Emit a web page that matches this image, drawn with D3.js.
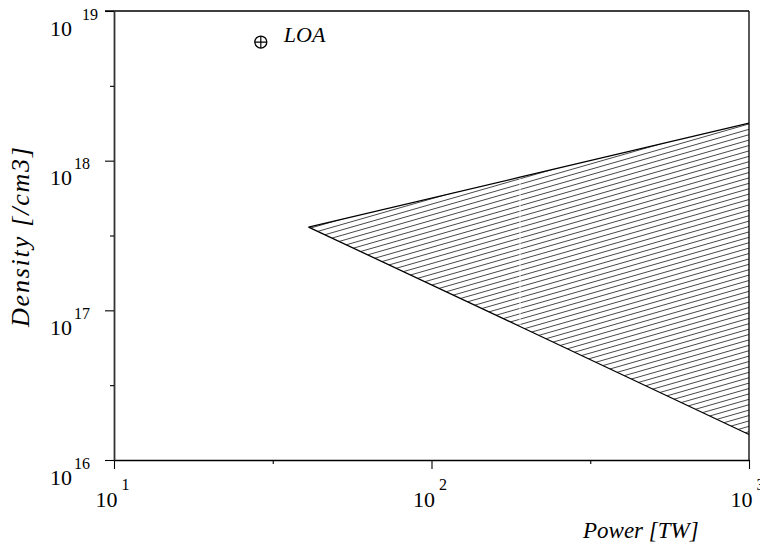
<!DOCTYPE html>
<html>
<head>
<meta charset="utf-8">
<script src="https://cdn.jsdelivr.net/npm/d3@7"></script>
<style>
  html, body { margin: 0; padding: 0; background: #fff; }
  svg text { font-family: "Liberation Serif", Tinos, "Times New Roman", Times, serif; fill: #000; }
</style>
</head>
<body>
<svg id="chart" width="760" height="546"></svg>
<script>
// Axis ticks (decades) and half-decade minor ticks
const powerTicks = [10, 100, 1000];
const powerMinor = [Math.pow(10, 1.5), Math.pow(10, 2.5)];
const densityTicks = [1e16, 1e17, 1e18, 1e19];
const densityMinor = [Math.pow(10, 16.5), Math.pow(10, 17.5), Math.pow(10, 18.5)];

// Accessible region: upper edge n ~ P^0.5, lower edge n ~ P^-1
const regionPower = [41, 190, 1000];
const regionUpper = [3.6e17, 7.75e17, 1.78e18];
const regionLower = [3.6e17, 7.8e16, 1.48e16];

// Single labelled point
const pointPower = [29];
const pointDensity = [6.2e18];
const pointLabel = ["LOA"];

const svg = d3.select("#chart");
const plotL = 114, plotR = 749, plotT = 11, plotB = 460;

const x = d3.scaleLog().domain([10, 1000]).range([plotL, plotR]);
const y = d3.scaleLog().domain([1e16, 1e19]).range([plotB, plotT]);

const idx = d3.range(regionPower.length);
const upperPts = idx.map(i => [x(regionPower[i]), y(regionUpper[i])]);
const lowerPts = idx.map(i => [x(regionPower[i]), y(regionLower[i])]).reverse();
const regionPath = d3.line()(upperPts.concat(lowerPts)) + "Z";

// clip for the hatching
const defs = svg.append("defs");
defs.append("clipPath").attr("id", "region-clip")
  .append("path").attr("d", regionPath);

// diagonal hatch lines, rising to the right
const hatchSlope = Math.tan(16 * Math.PI / 180);
const hatchStep = 5.4; // vertical spacing
const x0 = d3.min(upperPts, p => p[0]), x1 = d3.max(upperPts, p => p[0]);
const yTop = d3.min(upperPts, p => p[1]), yBot = d3.max(lowerPts, p => p[1]);
const offsets = d3.range(yTop - 2, yBot + (x1 - x0) * hatchSlope + 2, hatchStep);
svg.append("g").attr("clip-path", "url(#region-clip)")
  .selectAll("line").data(offsets).join("line")
  .attr("x1", x0 - 2).attr("y1", c => c)
  .attr("x2", x1 + 2).attr("y2", c => c - (x1 - x0 + 4) * hatchSlope)
  .attr("stroke", "#333").attr("stroke-width", 0.9);

// seam between the two hatched segments
const mid = 1;
svg.append("line")
  .attr("x1", x(regionPower[mid])).attr("x2", x(regionPower[mid]))
  .attr("y1", y(regionUpper[mid]) + 1).attr("y2", y(regionLower[mid]) - 1)
  .attr("stroke", "#fff").attr("stroke-width", 1);

// region edges
const edge = d3.line();
svg.append("path").attr("d", edge(upperPts))
  .attr("fill", "none").attr("stroke", "#000").attr("stroke-width", 1.3);
svg.append("path").attr("d", edge(lowerPts))
  .attr("fill", "none").attr("stroke", "#000").attr("stroke-width", 1.3);

// frame: top and right
svg.append("line").attr("x1", plotL - 9).attr("x2", plotR).attr("y1", plotT).attr("y2", plotT)
  .attr("stroke", "#000").attr("stroke-width", 1.3);
svg.append("line").attr("x1", plotR).attr("x2", plotR).attr("y1", plotT).attr("y2", plotB)
  .attr("stroke", "#000").attr("stroke-width", 1.3);

// bottom axis
const gx = svg.append("g").attr("transform", `translate(0,${plotB})`)
  .call(d3.axisBottom(x).tickValues(powerTicks).tickSize(9).tickSizeOuter(0).tickFormat(() => ""));
svg.append("g").attr("transform", `translate(0,${plotB})`)
  .call(d3.axisBottom(x).tickValues(powerMinor).tickSize(4).tickSizeOuter(0).tickFormat(() => ""))
  .select(".domain").remove();

// left axis
const gy = svg.append("g").attr("transform", `translate(${plotL},0)`)
  .call(d3.axisLeft(y).tickValues(densityTicks).tickSize(9).tickSizeOuter(0).tickFormat(() => ""));
svg.append("g").attr("transform", `translate(${plotL},0)`)
  .call(d3.axisLeft(y).tickValues(densityMinor).tickSize(4).tickSizeOuter(0).tickFormat(() => ""))
  .select(".domain").remove();

svg.selectAll(".domain").attr("stroke", "#000").attr("stroke-width", 1.3);
svg.selectAll(".tick line").attr("stroke", "#000").attr("stroke-width", 1.1);
gy.select(".domain").attr("stroke", "#333").attr("stroke-width", 1.8);

// power-of-ten tick labels
gx.selectAll(".tick").each(function(d) {
  const g = d3.select(this);
  const e = Math.round(Math.log10(d));
  g.append("text").attr("x", 3).attr("y", 47).attr("text-anchor", "end")
    .attr("font-size", 22).text("10");
  g.append("text").attr("x", 7).attr("y", 30).attr("text-anchor", "start")
    .attr("font-size", 16).text(e);
});
gy.selectAll(".tick").each(function(d) {
  const g = d3.select(this);
  const e = Math.round(Math.log10(d));
  g.append("text").attr("x", -42).attr("y", 24).attr("text-anchor", "end")
    .attr("font-size", 22).text("10");
  g.append("text").attr("x", d === 1e19 ? -32 : -40).attr("y", 8).attr("text-anchor", "start")
    .attr("font-size", 16).text(e);
});

// axis titles
svg.append("text").attr("x", 583).attr("y", 538)
  .attr("font-size", 23).attr("font-style", "italic").text("Power [TW]");
svg.append("text")
  .attr("transform", `translate(29,237) rotate(-90)`)
  .attr("text-anchor", "middle")
  .attr("font-size", 26).attr("font-style", "italic")
  .attr("textLength", 180).attr("lengthAdjust", "spacing")
  .text("Density [/cm3]");

// labelled point
const pts = svg.append("g").selectAll("g").data(d3.range(pointPower.length)).join("g")
  .attr("transform", i => `translate(${x(pointPower[i])},${y(pointDensity[i])})`);
pts.append("circle").attr("r", 6).attr("fill", "none").attr("stroke", "#000").attr("stroke-width", 1.3);
pts.append("path").attr("d", "M-6,0H6M0,-6V6").attr("stroke", "#000").attr("stroke-width", 1.2);
pts.append("text").attr("x", 23).attr("y", 0)
  .attr("font-size", 22).attr("font-style", "italic").text(i => pointLabel[i]);
</script>
</body>
</html>
